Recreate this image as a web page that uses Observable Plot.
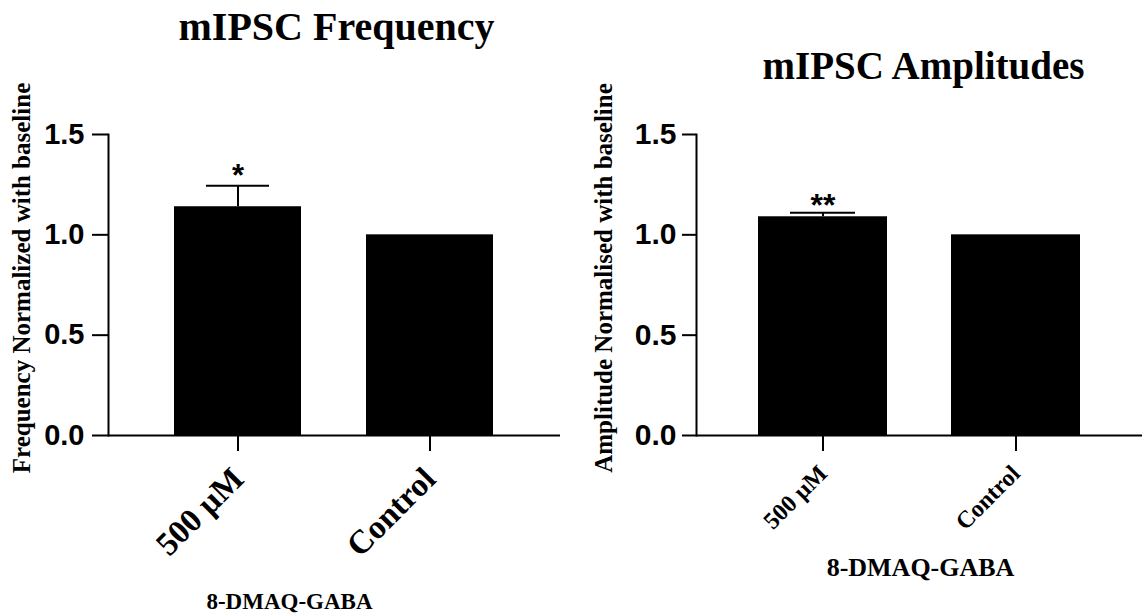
<!DOCTYPE html>
<html>
<head>
<meta charset="utf-8">
<script src="https://cdn.jsdelivr.net/npm/d3@7"></script>
<script src="https://cdn.jsdelivr.net/npm/@observablehq/plot@0.6"></script>
<style>
  html, body { margin: 0; padding: 0; background: #fff; }
  #wrap { display: flex; width: 1142px; height: 616px; }
  #wrap svg { display: block; }
</style>
</head>
<body>
<div id="wrap"></div>
<script>
// ---- data ----
const groups = ["500 µM", "Control"];
const freqMean = [1.14, 1.0];
const freqErr = [0.105, 0];
const freqSig = ["*", ""];
const ampMean = [1.09, 1.0];
const ampErr = [0.02, 0];
const ampSig = ["**", ""];
const yTicks = [0, 0.5, 1.0, 1.5];
const xTitle = "8-DMAQ-GABA";

const freqData = groups.map((g, i) => ({group: g, value: freqMean[i], err: freqErr[i], sig: freqSig[i]}));
const ampData = groups.map((g, i) => ({group: g, value: ampMean[i], err: ampErr[i], sig: ampSig[i]}));

const serif = "'Liberation Serif', 'Times New Roman', serif";
const sans = "'Liberation Sans', Arial, sans-serif";

function panel(data, o) {
  const withErr = data.filter(d => d.err > 0);
  return Plot.plot({
    width: 571,
    height: 616,
    marginLeft: o.marginLeft,
    marginRight: o.marginRight,
    marginTop: 134,
    marginBottom: 181,
    style: {fontWeight: "bold", color: "#000", background: "#fff"},
    x: {domain: groups, paddingInner: o.pi, paddingOuter: o.po, label: null},
    y: {domain: [0, 1.5], label: null},
    marks: [
      Plot.barY(data, {x: "group", y: "value", fill: "#000"}),
      Plot.ruleX(withErr, {x: "group", y1: "value", y2: d => d.value + d.err, stroke: "#000", strokeWidth: 2}),
      Plot.tickY(withErr, {x: "group", y: d => d.value + d.err, stroke: "#000", strokeWidth: 2, insetLeft: 32, insetRight: 32}),
      Plot.text(withErr, {x: "group", y: d => d.value + d.err, text: "sig", fontSize: o.sigSize, fontFamily: sans, fontWeight: "bold", dy: o.sigDy}),
      Plot.ruleY([0], {stroke: "#000", strokeWidth: 2}),
      Plot.frame({anchor: "left", stroke: "#000", strokeWidth: 2}),
      Plot.axisY({ticks: yTicks, tickFormat: d => d.toFixed(1), tickSize: o.yTickSize, tickPadding: o.yTickPad,
        fontSize: o.yFont, fontFamily: sans, fontWeight: "bold", strokeWidth: 2, label: null}),
      Plot.axisX({tickSize: 16, tickRotate: -45, tickPadding: o.xTickPad, fontSize: o.xFont, fontFamily: serif,
        fontWeight: "bold", strokeWidth: 2, label: null}),
      Plot.text([o.title], {frameAnchor: "top", text: d => d, dx: o.titleDx, dy: o.titleDy, lineAnchor: "bottom",
        textAnchor: "middle", fontSize: o.titleSize, fontFamily: serif, fontWeight: "bold"}),
      Plot.text([o.ylabel], {frameAnchor: "left", text: d => d, rotate: -90, dx: o.ylabDx, dy: -7, lineAnchor: "bottom",
        textAnchor: "middle", fontSize: 25, fontFamily: serif, fontWeight: "bold"}),
      Plot.text([xTitle], {frameAnchor: "bottom", text: d => d, dx: o.xlabDx, dy: o.xlabDy, lineAnchor: "bottom",
        textAnchor: "middle", fontSize: o.xlabSize, fontFamily: serif, fontWeight: "bold"})
    ]
  });
}

const left = panel(freqData, {
  marginLeft: 108, marginRight: 11, pi: 0.337, po: 0.34,
  sigSize: 31, sigDy: -10,
  yTickSize: 16, yTickPad: 8, yFont: 29,
  xTickPad: 22, xFont: 33,
  title: "mIPSC Frequency", titleSize: 40, titleDx: 2, titleDy: -95,
  ylabel: "Frequency Normalized with baseline", ylabDx: -79,
  xlabDx: -45, xlabDy: 173, xlabSize: 23
});
const right = panel(ampData, {
  marginLeft: 125, marginRight: 0, pi: 0.332, po: 0.32,
  sigSize: 32, sigDy: -7,
  yTickSize: 14, yTickPad: 6, yFont: 30,
  xTickPad: 18, xFont: 24,
  title: "mIPSC Amplitudes", titleSize: 39, titleDx: 4, titleDy: -56,
  ylabel: "Amplitude Normalised with baseline", ylabDx: -85,
  xlabDx: 1, xlabDy: 140, xlabSize: 26
});
document.getElementById("wrap").append(left, right);
</script>
</body>
</html>
